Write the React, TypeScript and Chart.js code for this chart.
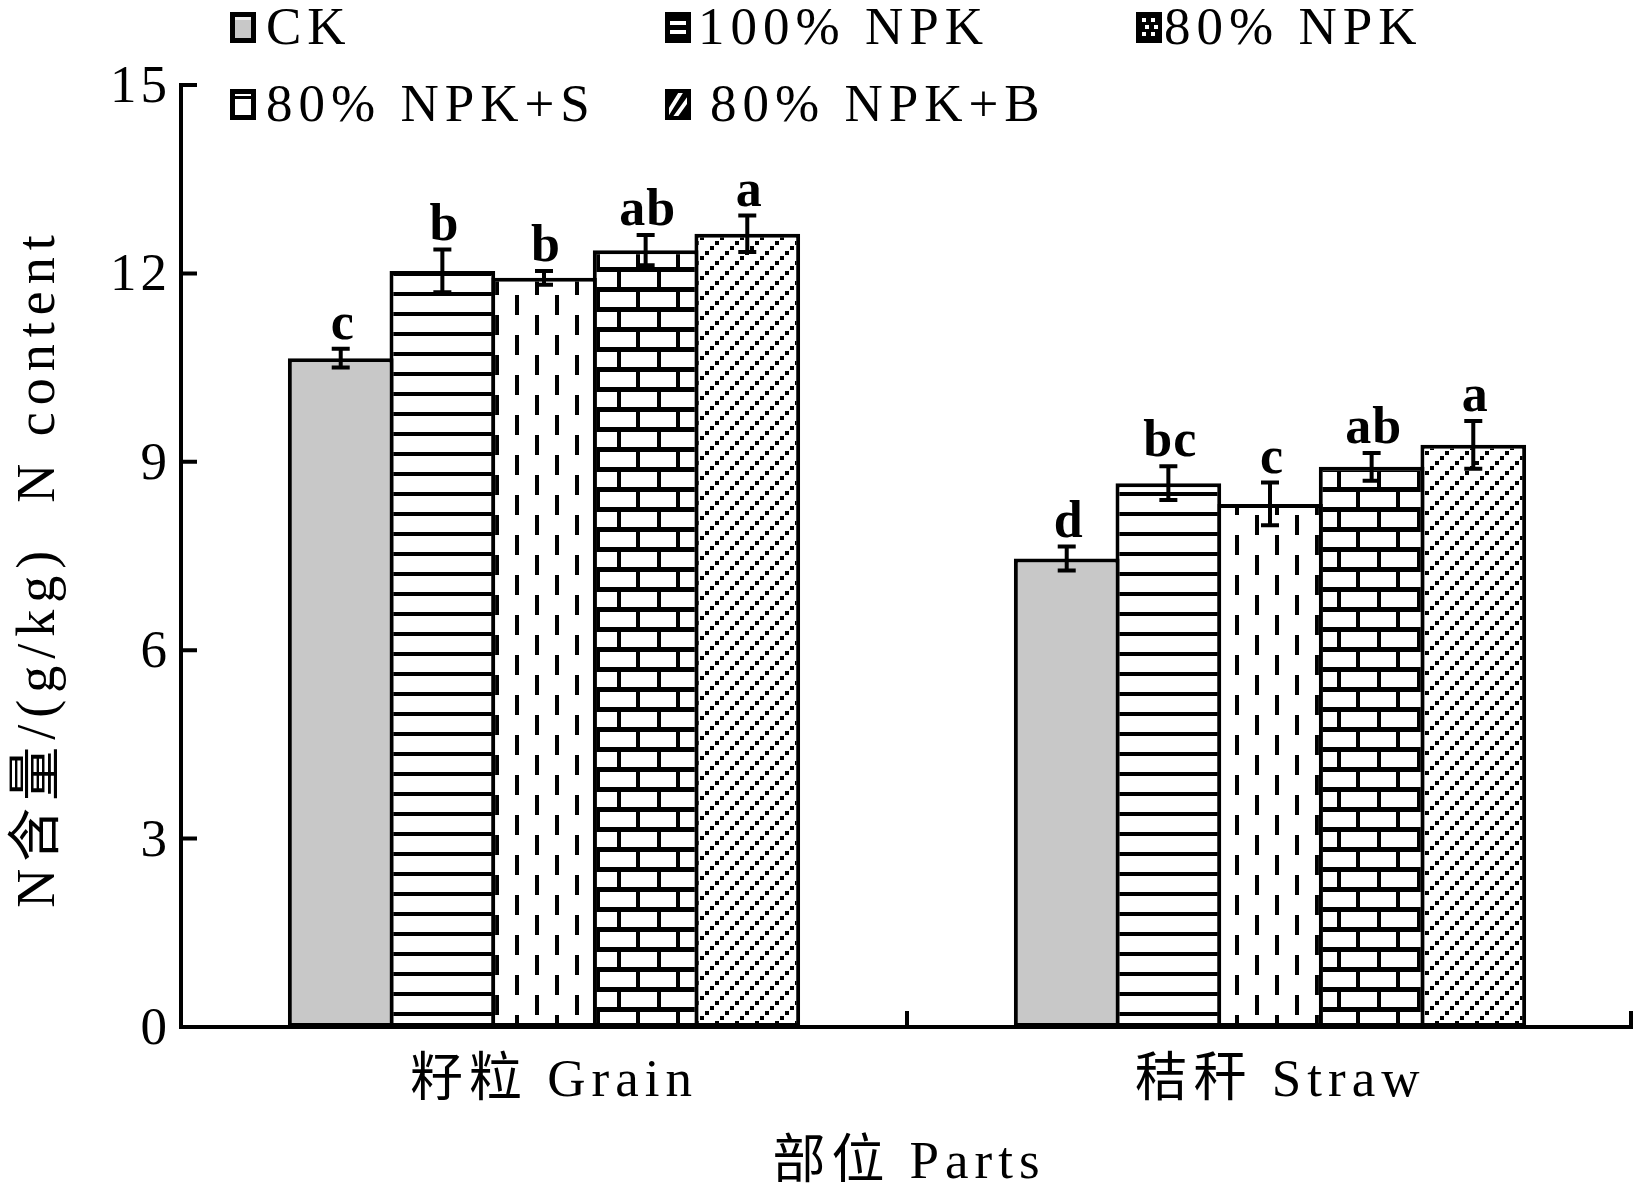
import React, { useEffect, useRef } from 'react';
import { Chart, registerables } from 'chart.js';

Chart.register(...registerables);

// ---------- data ----------
const categories = ['籽粒 Grain', '秸秆 Straw'];
const seriesLabels = ['CK', '100% NPK', '80% NPK', '80% NPK+S', '80% NPK+B'];

const ckValues = [10.65, 7.46];
const npk100Values = [12.04, 8.66];
const npk80Values = [11.93, 8.33];
const npk80SValues = [12.37, 8.92];
const npk80BValues = [12.63, 9.27];

const ckErrors = [0.15, 0.19];
const npk100Errors = [0.34, 0.27];
const npk80Errors = [0.11, 0.34];
const npk80SErrors = [0.24, 0.22];
const npk80BErrors = [0.29, 0.38];

const ckLetters = ['c', 'd'];
const npk100Letters = ['b', 'bc'];
const npk80Letters = ['b', 'c'];
const npk80SLetters = ['ab', 'ab'];
const npk80BLetters = ['a', 'a'];

const yTicks = [0, 3, 6, 9, 12, 15];
const xTitle = '部位 Parts';
const yTitle = 'N含量/(g/kg)  N content';

const seriesValues = [ckValues, npk100Values, npk80Values, npk80SValues, npk80BValues];
const seriesErrors = [ckErrors, npk100Errors, npk80Errors, npk80SErrors, npk80BErrors];
const seriesLetters = [ckLetters, npk100Letters, npk80Letters, npk80SLetters, npk80BLetters];

const FONT = '"Liberation Serif", "Noto Sans CJK SC", serif';
const SPACING = '6px';

// ---------- patterns ----------
function makeTile(w: number, h: number, draw: (c: CanvasRenderingContext2D) => void): HTMLCanvasElement {
  const c = document.createElement('canvas');
  c.width = w;
  c.height = h;
  const g = c.getContext('2d')!;
  g.fillStyle = '#fff';
  g.fillRect(0, 0, w, h);
  g.fillStyle = '#000';
  draw(g);
  return c;
}

function makePatterns(ctx: CanvasRenderingContext2D): (string | CanvasPattern)[] {
  const horiz = makeTile(20, 20, (g) => {
    g.fillRect(0, 12, 20, 4);
  });
  const dashes = makeTile(40, 40, (g) => {
    g.fillRect(35, 15, 4, 20);
    g.fillRect(15, 35, 4, 5);
    g.fillRect(15, 0, 4, 15);
  });
  const brick = makeTile(40, 40, (g) => {
    g.fillRect(0, 7, 40, 5);
    g.fillRect(0, 27, 40, 5);
    g.fillRect(17, 32, 4, 8);
    g.fillRect(17, 0, 4, 7);
    g.fillRect(36, 12, 4, 15);
  });
  const diag = makeTile(20, 20, (g) => {
    g.fillRect(0, 16, 4, 4);
    g.fillRect(5, 11, 4, 4);
    g.fillRect(10, 6, 4, 4);
    g.fillRect(15, 1, 4, 4);
  });
  return [
    '#c8c8c8',
    ctx.createPattern(horiz, 'repeat')!,
    ctx.createPattern(dashes, 'repeat')!,
    ctx.createPattern(brick, 'repeat')!,
    ctx.createPattern(diag, 'repeat')!,
  ];
}

// ---------- legend icons ----------
function drawIcon(ctx: CanvasRenderingContext2D, idx: number, x: number, y: number, w: number, h: number) {
  const b = 5;
  ctx.fillStyle = '#000';
  ctx.fillRect(x, y, w, h);
  if (idx === 0) {
    ctx.fillStyle = '#c8c8c8';
    ctx.fillRect(x + b, y + b + 3, w - 2 * b, h - 2 * b - 3);
    ctx.fillStyle = '#eee';
    ctx.fillRect(x + b, y + b, w - 2 * b, 3);
  } else if (idx === 1) {
    ctx.fillStyle = '#fff';
    ctx.fillRect(x + b, y + 9, w - 2 * b, 4);
    ctx.fillRect(x + b, y + 18, w - 2 * b, 4);
  } else if (idx === 2) {
    ctx.fillStyle = '#fff';
    for (let r = 0; r < 3; r++) {
      for (let c = 0; c < 2; c++) {
        ctx.fillRect(x + 6 + c * 9 + (r % 2) * 3, y + 6 + r * 7, 4, 4);
      }
    }
  } else if (idx === 3) {
    ctx.fillStyle = '#fff';
    ctx.fillRect(x + b, y + b + 5, w - 2 * b, h - 2 * b - 5);
    ctx.fillRect(x + b, y + b, w - 2 * b, 2);
  } else if (idx === 4) {
    ctx.save();
    ctx.beginPath();
    ctx.rect(x + b - 1, y + b - 1, w - 2 * b + 2, h - 2 * b + 2);
    ctx.clip();
    ctx.strokeStyle = '#fff';
    ctx.lineWidth = 4;
    ctx.beginPath();
    ctx.moveTo(x, y + h - 2);
    ctx.lineTo(x + w - 8, y);
    ctx.moveTo(x + 8, y + h);
    ctx.lineTo(x + w, y + 6);
    ctx.stroke();
    ctx.restore();
  }
}

const legendPos = [
  { bx: 230, by: 12, tx: 266, ty: 44 },
  { bx: 665, by: 12, tx: 698, ty: 44 },
  { bx: 1136, by: 12, tx: 1164, ty: 44 },
  { bx: 230, by: 89, tx: 266, ty: 121 },
  { bx: 665, by: 89, tx: 710, ty: 121 },
];

const decor = {
  id: 'decor',
  beforeDraw(chart: any) {
    chart.ctx.letterSpacing = SPACING;
  },
  afterDatasetsDraw(chart: any) {
    const ctx: CanvasRenderingContext2D = chart.ctx;
    const ys = chart.scales.y;
    ctx.save();
    chart.data.datasets.forEach((ds: any, di: number) => {
      const meta = chart.getDatasetMeta(di);
      meta.data.forEach((bar: any, i: number) => {
        const v = ds.data[i];
        const e = seriesErrors[di][i];
        const top = ys.getPixelForValue(v + e);
        const bot = ys.getPixelForValue(v - e);
        ctx.strokeStyle = '#000';
        ctx.lineWidth = 4;
        ctx.lineCap = 'butt';
        ctx.beginPath();
        ctx.moveTo(bar.x, top);
        ctx.lineTo(bar.x, bot);
        ctx.moveTo(bar.x - 9, top);
        ctx.lineTo(bar.x + 9, top);
        ctx.moveTo(bar.x - 9, bot);
        ctx.lineTo(bar.x + 9, bot);
        ctx.stroke();
        ctx.fillStyle = '#000';
        ctx.letterSpacing = '1px';
        ctx.font = `bold 52px ${FONT}`;
        ctx.textAlign = 'center';
        ctx.textBaseline = 'alphabetic';
        ctx.fillText(seriesLetters[di][i], bar.x + 2, top - 10);
      });
    });
    ctx.restore();
  },
  afterDraw(chart: any) {
    const ctx: CanvasRenderingContext2D = chart.ctx;
    const ys = chart.scales.y;
    const xs = chart.scales.x;
    const area = chart.chartArea;
    const y0 = ys.getPixelForValue(0);
    const yTop = ys.getPixelForValue(15);
    ctx.save();
    ctx.letterSpacing = SPACING;
    ctx.strokeStyle = '#000';
    ctx.fillStyle = '#000';
    ctx.lineCap = 'butt';
    // axes
    ctx.lineWidth = 4;
    ctx.beginPath();
    ctx.moveTo(area.left, yTop - 2);
    ctx.lineTo(area.left, y0 + 2);
    ctx.moveTo(area.left - 2, y0);
    ctx.lineTo(area.right, y0);
    ctx.stroke();
    // y ticks (inward)
    ctx.beginPath();
    yTicks.forEach((t) => {
      const py = ys.getPixelForValue(t);
      ctx.moveTo(area.left, py);
      ctx.lineTo(area.left + 16, py);
    });
    // x ticks (inward) at category boundaries
    const b1 = (xs.getPixelForValue(0) + xs.getPixelForValue(1)) / 2;
    const b2 = area.right - 2;
    [b1, b2].forEach((bx) => {
      ctx.moveTo(bx, y0);
      ctx.lineTo(bx, y0 - 16);
    });
    ctx.stroke();
    // y tick labels
    ctx.font = `53px ${FONT}`;
    ctx.letterSpacing = '4px';
    ctx.textAlign = 'right';
    ctx.textBaseline = 'middle';
    yTicks.forEach((t) => {
      const py = ys.getPixelForValue(t);
      ctx.fillText(String(t), area.left - 10, py + 3);
    });
    // category labels
    ctx.letterSpacing = SPACING;
    ctx.textAlign = 'center';
    ctx.textBaseline = 'alphabetic';
    ctx.font = `53px ${FONT}`;
    categories.forEach((c, i) => {
      ctx.fillText(c, xs.getPixelForValue(i) + 10, 1096);
    });
    // x title
    ctx.fillText(xTitle, (area.left + area.right) / 2 + 2, 1178);
    // y title
    ctx.save();
    ctx.letterSpacing = '7px';
    ctx.font = `54px ${FONT}`;
    ctx.translate(40, 568);
    ctx.rotate(-Math.PI / 2);
    ctx.textBaseline = 'middle';
    ctx.textAlign = 'center';
    ctx.fillText(yTitle, 0, 0);
    ctx.restore();
    // legend
    ctx.letterSpacing = SPACING;
    ctx.font = `53px ${FONT}`;
    ctx.textAlign = 'left';
    ctx.textBaseline = 'alphabetic';
    seriesLabels.forEach((lab, i) => {
      const p = legendPos[i];
      drawIcon(ctx, i, p.bx, p.by, 26, 31);
      ctx.fillStyle = '#000';
      ctx.fillText(lab, p.tx, p.ty);
    });
    ctx.restore();
  },
};

export default function App() {
  const ref = useRef<HTMLCanvasElement | null>(null);
  useEffect(() => {
    document.body.style.margin = '0';
    const canvas = ref.current!;
    const ctx = canvas.getContext('2d')!;
    const patterns = makePatterns(ctx);
    const chart = new Chart(canvas, {
      type: 'bar',
      data: {
        labels: categories,
        datasets: seriesLabels.map((lab, i) => ({
          label: lab,
          data: seriesValues[i],
          backgroundColor: patterns[i] as any,
          borderColor: '#000',
          borderWidth: 4,
          borderSkipped: false,
          categoryPercentage: 0.7,
          barPercentage: 1.04,
        })),
      },
      options: {
        responsive: false,
        animation: false,
        events: [],
        layout: { padding: { left: 181, right: 5, top: 85, bottom: 161 } },
        plugins: {
          legend: { display: false },
          tooltip: { enabled: false },
        },
        scales: {
          x: { display: false },
          y: { display: false, min: 0, max: 15 },
        },
      },
      plugins: [decor],
    });
    return () => chart.destroy();
  }, []);
  return (
    <canvas
      ref={ref}
      width={1638}
      height={1188}
      style={{ display: 'block', width: 1638, height: 1188 }}
    />
  );
}
